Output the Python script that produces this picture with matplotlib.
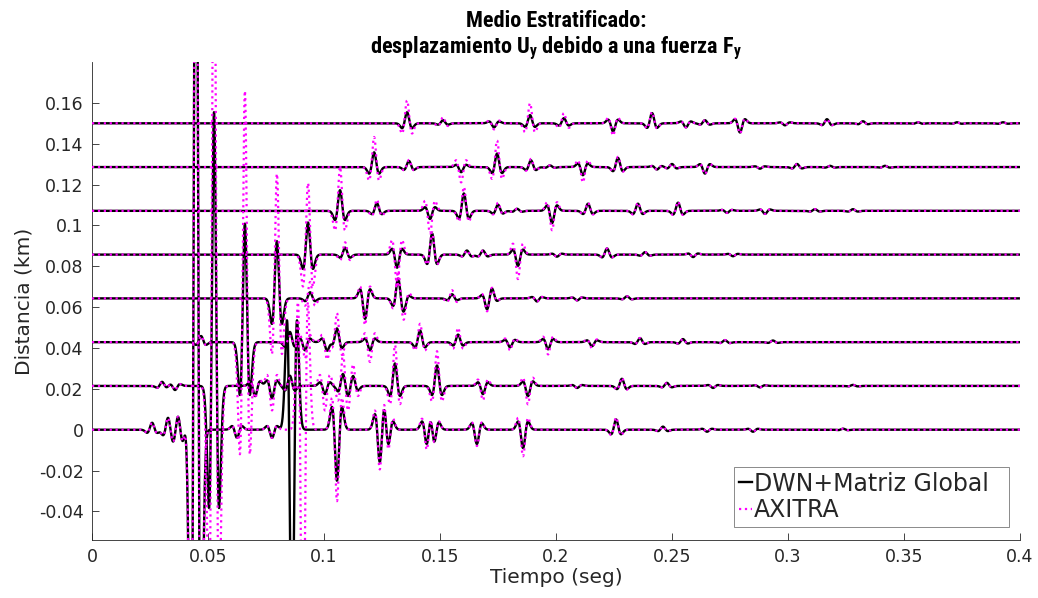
import numpy as np
import matplotlib
matplotlib.use("Agg")
import matplotlib.pyplot as plt
from matplotlib import font_manager
from matplotlib.ticker import FuncFormatter

# Receiver distances (km) used as trace offsets
distances = [0.0, 0.15 / 7, 0.30 / 7, 0.45 / 7, 0.60 / 7, 0.75 / 7, 0.90 / 7, 0.15]

# Arrival times (s) and peak amplitudes of the pulses on each trace
arr_0 = [0.0259, 0.0328, 0.0371, 0.0409, 0.0448, 0.0625, 0.0776, 0.0862, 0.0909, 0.1056,
         0.1241, 0.1276, 0.1444, 0.1474, 0.1659, 0.1858, 0.2259, 0.2461, 0.2651, 0.2849, 0.3237]
dwn_0 = [0.0034, 0.006, 0.007, 0.006, 0.35, -0.004, -0.004, -0.12, 0.0, -0.025,
         -0.017, -0.009, -0.009, -0.008, -0.007, -0.009, 0.005, 0.0015, -0.001, -0.001, 0.0005]
axi_0 = [0.0034, 0.006, 0.007, 0.006, 0.35, -0.004, -0.004, 0.0, -0.14, -0.035,
         -0.021, -0.012, -0.012, -0.009, -0.008, -0.013, 0.006, 0.0015, -0.001, -0.001, 0.0005]

arr_1 = [0.0302, 0.0358, 0.0526, 0.0703, 0.0776, 0.0853, 0.1004, 0.1082, 0.1125, 0.1306,
         0.1487, 0.1685, 0.1879, 0.2091, 0.2284, 0.2478, 0.2677, 0.2879, 0.3280]
dwn_1 = [0.002, -0.002, 0.134, -0.005, -0.006, 0.005, -0.004, 0.006, 0.005, 0.011,
         0.010, -0.004, -0.005, -0.001, 0.0035, 0.0015, -0.001, -0.0007, 0.0005]
axi_1 = [0.002, -0.002, 0.26, -0.006, -0.012, 0.004, -0.012, 0.016, 0.011, 0.020,
         0.017, -0.007, -0.009, -0.001, 0.004, 0.0015, -0.001, -0.0007, 0.0005]

arr_2 = [0.0470, 0.0659, 0.0853, 0.0918, 0.1013, 0.1056, 0.1198, 0.1414, 0.1578, 0.1802,
         0.1966, 0.2155, 0.2362, 0.2547, 0.2728, 0.2935]
dwn_2 = [0.003, 0.058, 0.005, -0.004, -0.004, 0.0066, -0.004, 0.0057, 0.0037, -0.0025,
         -0.0035, -0.002, 0.002, 0.0015, 0.001, 0.0008]
axi_2 = [0.003, 0.123, 0.003, -0.008, -0.008, 0.014, -0.0097, 0.009, 0.007, -0.004,
         -0.006, -0.003, 0.002, 0.0015, 0.001, 0.0008]

arr_3 = [0.0797, 0.0940, 0.1177, 0.1319, 0.1345, 0.1552, 0.1703, 0.1724, 0.1918, 0.2091, 0.2306]
dwn_3 = [0.028, 0.003, -0.010, 0.0085, -0.003, 0.002, -0.004, 0.003, -0.0015, -0.001, 0.001]
axi_3 = [0.061, 0.008, -0.013, 0.011, -0.006, 0.004, -0.005, 0.003, -0.0015, -0.001, 0.001]

arr_4 = [0.0931, 0.1091, 0.1315, 0.1466, 0.1616, 0.1685, 0.1836, 0.2004, 0.2220, 0.2384,
         0.2591, 0.2763]
dwn_4 = [0.0157, 0.0034, -0.0064, 0.0103, 0.002, 0.002, -0.0055, -0.001, 0.003, 0.0012,
         -0.0012, -0.0008]
axi_4 = [0.035, 0.006, -0.016, 0.011, 0.002, 0.002, -0.012, -0.001, 0.003, 0.0012,
         -0.0012, -0.0008]

arr_5 = [0.1069, 0.1228, 0.1457, 0.1603, 0.1750, 0.1832, 0.1983, 0.2138, 0.2353, 0.2526,
         0.2737, 0.2901, 0.3116, 0.3280]
dwn_5 = [0.0101, 0.0037, -0.004, 0.0085, 0.003, 0.001, -0.006, 0.0035, 0.0035, 0.004,
         -0.001, -0.0015, 0.0008, 0.0008]
axi_5 = [0.0215, 0.0055, -0.011, 0.0117, 0.004, 0.001, -0.0095, 0.004, 0.004, 0.0045,
         -0.001, -0.0015, 0.0008, 0.0008]

arr_6 = [0.1216, 0.1366, 0.1591, 0.1746, 0.1892, 0.1974, 0.2116, 0.2267, 0.2435, 0.2500,
         0.2642, 0.2879, 0.3039, 0.3181, 0.3418]
dwn_6 = [0.0072, 0.003, -0.0025, 0.0066, 0.0033, 0.0008, -0.004, 0.0045, -0.0012, 0.0015,
         -0.0032, -0.0008, 0.0015, 0.0006, 0.0006]
axi_6 = [0.0147, 0.0035, -0.0075, 0.013, 0.004, 0.0008, -0.0075, 0.005, -0.0012, 0.0015,
         -0.0035, -0.0008, 0.0015, 0.0006, 0.0006]

arr_7 = [0.1358, 0.1513, 0.1733, 0.1888, 0.2034, 0.2246, 0.2414, 0.2560, 0.2642, 0.2793,
         0.2987, 0.3168, 0.3323, 0.3560, 0.3728, 0.3927]
dwn_7 = [0.0054, 0.0015, -0.002, 0.004, 0.0025, -0.004, 0.005, -0.002, 0.0015, -0.0045,
         -0.001, 0.002, 0.001, 0.0005, 0.0005, 0.0005]
axi_7 = [0.0112, 0.003, -0.003, 0.0098, 0.005, -0.006, 0.0055, -0.002, 0.0015, -0.005,
         -0.001, 0.002, 0.001, 0.0005, 0.0005, 0.0005]

arrivals = [arr_0, arr_1, arr_2, arr_3, arr_4, arr_5, arr_6, arr_7]
amps_dwn = [dwn_0, dwn_1, dwn_2, dwn_3, dwn_4, dwn_5, dwn_6, dwn_7]
amps_axi = [axi_0, axi_1, axi_2, axi_3, axi_4, axi_5, axi_6, axi_7]

x_ticks = [0, 0.05, 0.1, 0.15, 0.2, 0.25, 0.3, 0.35, 0.4]
y_ticks = [-0.04, -0.02, 0, 0.02, 0.04, 0.06, 0.08, 0.1, 0.12, 0.14, 0.16]

# Ricker source pulse used to build each synthetic trace
SIGMA = 0.00125
t = np.arange(0.0, 0.4 + 1e-9, 0.00005)


def trace(times, amps):
    s = np.zeros_like(t)
    for t0, a in zip(times, amps):
        u = ((t - t0) / SIGMA) ** 2
        s += a * (1.0 - u) * np.exp(-u / 2.0)
    return s


# narrow bold face for the title, if one is installed
title_family = "DejaVu Sans"
installed = {f.name for f in font_manager.fontManager.ttflist}
for cand in ("Liberation Sans Narrow", "Roboto Condensed", "Open Sans Condensed"):
    if cand in installed:
        title_family = cand
        break
plt.rcParams["mathtext.fontset"] = "custom"
plt.rcParams["mathtext.bf"] = title_family + ":bold"
plt.rcParams["mathtext.rm"] = title_family + ":bold"
plt.rcParams["mathtext.default"] = "bf"

fig = plt.figure(figsize=(10.38, 5.98), dpi=100)
ax = fig.add_axes([92 / 1038, 58 / 598, 928 / 1038, 478 / 598])

for d, tm, ad, aa in zip(distances, arrivals, amps_dwn, amps_axi):
    ax.plot(t, d + trace(tm, ad), color="black", lw=1.7, zorder=2)
    ax.plot(t, d + trace(tm, aa), color=(1, 0, 1), lw=1.6, ls=":", zorder=3)

# legend handles
h1, = ax.plot([], [], color="black", lw=1.7)
h2, = ax.plot([], [], color=(1, 0, 1), lw=1.6, ls=":")
leg = ax.legend([h1, h2], ["DWN+Matriz Global  ", "AXITRA"], loc="lower right",
                bbox_to_anchor=(0.988, 0.027), fontsize=17, frameon=True,
                fancybox=False, handlelength=0.55, handletextpad=0.1,
                borderpad=0.2, labelspacing=0.12, borderaxespad=0)
leg.get_frame().set_edgecolor("#555555")
leg.get_frame().set_linewidth(0.6)
for txt in leg.get_texts():
    txt.set_color("#262626")

ax.set_xlim(0, 0.4)
ax.set_ylim(-0.054, 0.18)
ax.set_xticks(x_ticks)
ax.set_yticks(y_ticks)
fmt = FuncFormatter(lambda v, p: "%g" % round(v, 4))
ax.xaxis.set_major_formatter(fmt)
ax.yaxis.set_major_formatter(fmt)
ax.tick_params(direction="in", length=5, width=0.6, colors="#262626",
               labelsize=12.5, pad=6)
for side in ("top", "right"):
    ax.spines[side].set_visible(False)
for side in ("left", "bottom"):
    ax.spines[side].set_color("#262626")
    ax.spines[side].set_linewidth(0.6)

ax.set_xlabel("Tiempo (seg)", fontsize=14.5, color="#262626", labelpad=1)
ax.set_ylabel("Distancia (km)", fontsize=14.5, color="#262626", labelpad=4)

ax.set_title("Medio Estratificado:\ndesplazamiento U$_y$ debido a una fuerza F$_y$",
             fontsize=16 if title_family != "DejaVu Sans" else 14,
             fontweight="bold", family=title_family,
             color="#000000", linespacing=1.15, pad=5)

fig.savefig("out.png", dpi=100)
